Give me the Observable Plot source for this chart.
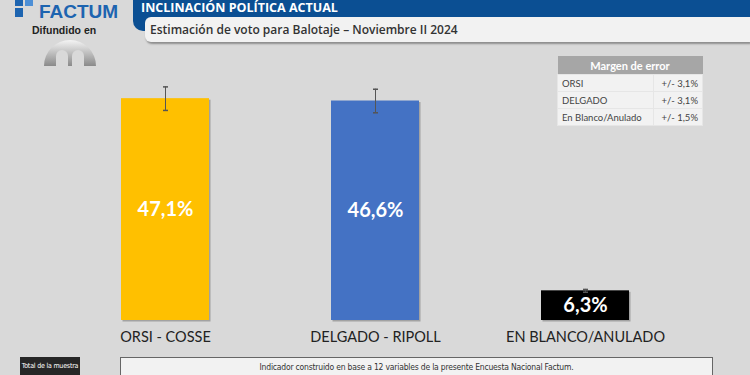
<!DOCTYPE html>
<html><head><meta charset="utf-8">
<script src="https://cdn.jsdelivr.net/npm/d3@7"></script>
<script src="https://cdn.jsdelivr.net/npm/@observablehq/plot@0.6"></script>
<style>
html,body{margin:0;padding:0;background:#d9d9d9;width:750px;height:375px;overflow:hidden;font-family:"Open Sans",sans-serif;}
#wrap{position:relative;width:750px;height:375px;}
#chart{position:absolute;left:0;top:0;}
.abs{position:absolute;}
#hdr{left:133px;top:0;width:617px;height:17px;background:#0b4f93;border-bottom-left-radius:10px;}
#hdrtab{left:133px;top:0;width:20px;height:31px;background:#0b4f93;border-bottom-left-radius:10px;}
#hdrtxt{left:141px;top:-1px;color:#fff;font-weight:bold;font-size:12.5px;font-family:"Open Sans",sans-serif;}
#sub{left:145px;top:17px;width:605px;height:25px;background:#f2f2f2;border-top-left-radius:6px;border-bottom-left-radius:6px;box-shadow:1px 2px 2px rgba(0,0,0,0.35);}
#subtxt{left:150px;top:21px;color:#333;font-size:12px;font-weight:600;}
#logo{left:39px;top:0px;color:#1d64b0;font-weight:bold;font-size:19px;line-height:23px;font-family:"Liberation Sans",sans-serif;}
#dif{left:32px;top:24px;font-size:10.5px;font-weight:bold;color:#222;font-family:"Liberation Sans",sans-serif;}
#tbl{left:557px;top:56px;width:146px;border-collapse:collapse;font-family:Lato,sans-serif;}
#tbl td{font-size:9.5px;color:#444;height:16px;padding:0 4px;border:1px solid #e6e6e6;background:#f2f2f2;}
#tbl th{background:#a6a6a6;color:#fff;font-size:11px;height:16px;font-weight:bold;}
#tot{left:20px;top:357px;width:60px;height:20px;background:#262626;color:#fff;font-size:7px;text-align:center;line-height:18px;white-space:nowrap;font-family:"DejaVu Sans Condensed",Lato,sans-serif;letter-spacing:-0.2px;}
#ind{left:120px;top:357px;width:591px;height:20px;border:1px solid #666;background:#f2f2f2;color:#333;font-size:8.5px;text-align:center;line-height:18px;font-family:"DejaVu Sans Condensed",Lato,sans-serif;letter-spacing:-0.2px;}
</style></head>
<body><div id="wrap">
<div id="chart"></div>
<div class="abs" id="hdrtab"></div>
<div class="abs" id="hdr"></div>
<div class="abs" id="hdrtxt">INCLINACIÓN POLÍTICA ACTUAL</div>
<div class="abs" id="sub"></div>
<div class="abs" id="subtxt">Estimación de voto para Balotaje – Noviembre II 2024</div>
<div class="abs" style="left:15px;top:0;width:8px;height:6px;background:#1d64b0"></div>
<div class="abs" style="left:25px;top:0;width:8px;height:6px;background:#4d8fd6"></div>
<div class="abs" style="left:15px;top:8px;width:8px;height:9px;background:#1d64b0"></div>
<div class="abs" id="logo">FACTUM</div>
<div class="abs" id="dif">Difundido en</div>
<div class="abs" style="left:44px;top:40px;width:52px;height:26px;border-radius:26px 26px 0 0;background:linear-gradient(#f4f4f4,#8a8a8a);"></div>
<div class="abs" style="left:56px;top:50px;width:12px;height:20px;border-radius:6px 6px 0 0;background:#d9d9d9;"></div>
<div class="abs" style="left:72px;top:50px;width:12px;height:20px;border-radius:6px 6px 0 0;background:#d9d9d9;"></div>
<table class="abs" id="tbl">
<tr><th colspan="2">Margen de error</th></tr>
</table>
<div class="abs" id="tot">Total de la muestra</div>
<div class="abs" id="ind">Indicador construido en base a 12 variables de la presente Encuesta Nacional Factum.</div>
</div>
<script>
const categories = ["ORSI - COSSE", "DELGADO - RIPOLL", "EN BLANCO/ANULADO"];
const values = [47.1, 46.6, 6.3];
const valueLabels = ["47,1%", "46,6%", "6,3%"];
const errorBars = [2.5, 2.5, 0.3];
const colors = ["#ffc000", "#4472c4", "#000000"];
const marginNames = ["ORSI", "DELGADO", "En Blanco/Anulado"];
const marginValues = ["+/- 3,1%", "+/- 3,1%", "+/- 1,5%"];

const tbl = document.getElementById("tbl");
marginNames.forEach((n, i) => {
  const tr = document.createElement("tr");
  tr.innerHTML = `<td>${n}</td><td style="text-align:right">${marginValues[i]}</td>`;
  tbl.appendChild(tr);
});

const data = categories.map((c, i) => ({cat: c, v: values[i], lab: valueLabels[i], e: errorBars[i], col: colors[i]}));
const capSymbol = {draw(ctx, size) { ctx.moveTo(-2.5, 0); ctx.lineTo(2.5, 0); }};

const plot = Plot.plot({
  width: 750,
  height: 375,
  marginLeft: 60,
  marginRight: 60,
  marginTop: 84.5,
  marginBottom: 55,
  style: {background: "transparent", fontFamily: "Lato, sans-serif"},
  x: {domain: categories, paddingInner: 0.58, paddingOuter: 0.29, label: null},
  y: {domain: [0, 50], axis: null},
  color: {type: "identity"},
  marks: [
    Plot.barY(data, {x: "cat", y: "v", dx: 1.5, dy: 1.5, fillOpacity: 0.25, fill: () => "#000"}),
    Plot.barY(data, {x: "cat", y: "v", fill: "col"}),
    Plot.ruleX(data, {x: "cat", y1: d => d.v - d.e, y2: d => d.v + d.e, stroke: "#555", strokeWidth: 1}),
    Plot.dot(data, {x: "cat", y: d => d.v + d.e, symbol: capSymbol, stroke: "#555", r: 3}),
    Plot.dot(data, {x: "cat", y: d => d.v - d.e, symbol: capSymbol, stroke: "#555", r: 3}),
    Plot.text(data, {x: "cat", y: d => d.v / 2, text: "lab", fill: "#fff", fontSize: 20, fontWeight: "bold", fontFamily: "Lato, sans-serif"}),
    Plot.axisX({tickSize: 0, tickPadding: 11, fontSize: 14.5, color: "#222", label: null, fontFamily: "Lato, sans-serif"})
  ]
});
document.getElementById("chart").appendChild(plot);
</script>
</body></html>
